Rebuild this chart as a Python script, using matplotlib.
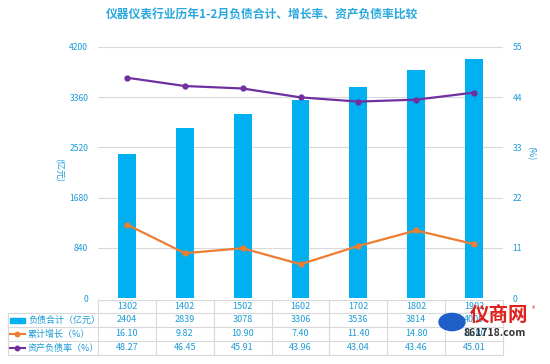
import matplotlib.pyplot as plt
from matplotlib.lines import Line2D
from matplotlib.patches import Rectangle
import matplotlib.transforms as mtransforms

plt.rcParams['font.family'] = ['Noto Sans CJK SC', 'DejaVu Sans']

# 数据
periodos = ['1302', '1402', '1502', '1602', '1702', '1802', '1902']
deuda = [2404, 2839, 3078, 3306, 3536, 3814, 4000]
deuda_txt = ['2404', '2839', '3078', '3306', '3536', '3814', '4000']
crecimiento = [16.10, 9.82, 10.90, 7.40, 11.40, 14.80, 11.80]
ratio = [48.27, 46.45, 45.91, 43.96, 43.04, 43.46, 45.01]
filas = ['负债合计（亿元）', '累计增长（%）', '资产负债率（%）']

azul = '#00B0F0'
naranja = '#ED7D31'
morado = '#7030A0'
texto = '#1C9AD6'
rejilla = '#D9D9D9'

W, H = 550, 364
fig = plt.figure(figsize=(5.5, 3.64), dpi=100)


def fx(px):
    return px / W


def fy(py):
    return 1 - py / H


ax = fig.add_axes([fx(98), fy(298), (503 - 98) / W, (298 - 47) / H])
x = list(range(len(periodos)))
ax.bar(x, deuda, width=0.31, color=azul, zorder=2)
ax.set_xlim(-0.5, 6.5)
ax.set_ylim(0, 4200)
ax.set_yticks([0, 840, 1680, 2520, 3360, 4200])
ax.set_xticks([])
ax.grid(axis='y', color=rejilla, linewidth=0.8, zorder=0)
ax.tick_params(axis='y', length=0, pad=7, labelsize=6.2, labelcolor=texto)
for s in ax.spines.values():
    s.set_visible(False)

ax2 = ax.twinx()
ax2.plot(x, crecimiento, color=naranja, linewidth=1.6, marker='o', markersize=3.5, zorder=3)
ax2.plot(x, ratio, color=morado, linewidth=1.6, marker='o', markersize=3.5, zorder=3)
ax2.set_ylim(0, 55)
ax2.set_yticks([0, 11, 22, 33, 44, 55])
ax2.tick_params(axis='y', length=0, pad=7, labelsize=6.2, labelcolor=texto)
for s in ax2.spines.values():
    s.set_visible(False)

fig.text(fx(262), fy(15), '仪器仪表行业历年1-2月负债合计、增长率、资产负债率比较',
         ha='center', va='center', fontsize=8.5, fontweight='bold', color='#29A8DF')
fig.text(fx(59), fy(170), '(亿元)', rotation=270, ha='center', va='center',
         fontsize=6.5, color=texto)
fig.text(fx(530), fy(153), '(%)', rotation=270, ha='center', va='center',
         fontsize=6.5, color=texto)

# 表格
ancho = (503 - 98) / 7
for i in range(8):
    xp = 98 + ancho * i
    fig.add_artist(Line2D([fx(xp), fx(xp)], [fy(300), fy(355)], color=rejilla, linewidth=0.8))
fig.add_artist(Line2D([fx(8), fx(8)], [fy(313), fy(355)], color=rejilla, linewidth=0.8))
fig.add_artist(Line2D([fx(98), fx(503)], [fy(300), fy(300)], color=rejilla, linewidth=0.8))
for yp in [313, 327, 341, 355]:
    fig.add_artist(Line2D([fx(8), fx(503)], [fy(yp), fy(yp)], color=rejilla, linewidth=0.8))

trans = mtransforms.blended_transform_factory(ax.transData, fig.transFigure)
valores = [deuda_txt,
           ['%.2f' % v for v in crecimiento],
           ['%.2f' % v for v in ratio]]
for i, p in enumerate(periodos):
    fig.text(i, fy(306.5), p, transform=trans, ha='center', va='center', fontsize=6.5, color=texto)
    for r, fila in enumerate(valores):
        fig.text(i, fy(320 + 14 * r), fila[i], transform=trans, ha='center', va='center',
                 fontsize=6.5, color=texto)

for r, nombre in enumerate(filas):
    yc = 320 + 14 * r
    fig.text(fx(28), fy(yc), nombre, ha='left', va='center', fontsize=6.5, color=texto)
    if r == 0:
        fig.add_artist(Rectangle((fx(10), fy(yc + 2.5)), fx(15), 5 / H, color=azul))
    else:
        c = naranja if r == 1 else morado
        fig.add_artist(Line2D([fx(10), fx(25)], [fy(yc), fy(yc)], color=c, linewidth=1.5))
        fig.add_artist(Line2D([fx(17.5)], [fy(yc)], color=c, marker='o', markersize=3.2))

# 水印
fig.add_artist(plt.Circle((fx(452), fy(322)), 13 / W, color='#1F5FC8', zorder=9,
                          transform=fig.transFigure))
fig.text(fx(499), fy(316), '仪商网', ha='center', va='center', fontsize=14,
         fontweight='bold', color='#E0201B', zorder=10)
fig.text(fx(533), fy(309), '®', ha='center', va='center', fontsize=5, color='#E0201B', zorder=10)
fig.text(fx(495), fy(333), '861718.com', ha='center', va='center', fontsize=7.5,
         fontweight='bold', fontstyle='italic', color='#333333', zorder=10)

fig.savefig('out.png', dpi=100, facecolor='white')
